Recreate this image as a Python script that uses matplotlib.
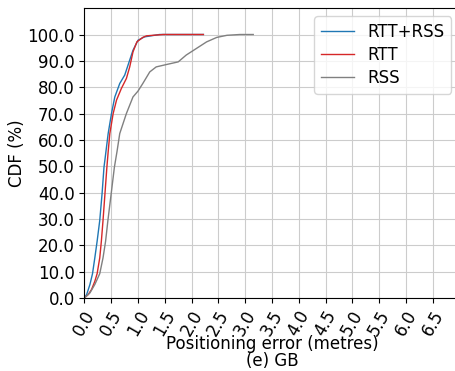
import matplotlib
matplotlib.use("Agg")
import matplotlib.pyplot as plt
import numpy as np
from matplotlib.ticker import FormatStrFormatter

# Data (positioning error in metres, CDF in %)
rtt_rss_x = [0.0, 0.043, 0.104, 0.152, 0.195, 0.238, 0.287, 0.33, 0.366, 0.383, 0.444, 0.506,
             0.568, 0.66, 0.753, 0.846, 0.907, 1.0, 1.12, 1.4, 2.22]
rtt_rss_y = [0.0, 1.3, 5.1, 9.2, 15.2, 21.5, 29.4, 39.5, 49.6, 52.3, 62.4, 70.0,
             76.3, 81.4, 84.6, 90.3, 94.0, 97.8, 99.1, 100.0, 100.0]

rtt_x = [0.0, 0.073, 0.134, 0.195, 0.238, 0.287, 0.317, 0.348, 0.384, 0.42, 0.445, 0.475,
         0.537, 0.6, 0.69, 0.784, 0.846, 0.907, 0.98, 1.09, 1.16, 1.47, 2.22]
rtt_y = [0.0, 1.3, 3.2, 6.3, 9.2, 15.2, 21.5, 29.4, 39.5, 49.6, 55.7, 62.4,
         70.0, 75.1, 79.5, 83.3, 87.7, 93.4, 97.2, 98.9, 99.5, 100.0, 100.0]

rss_x = [0.0, 0.104, 0.195, 0.287, 0.348, 0.396, 0.439, 0.5, 0.56, 0.61, 0.66, 0.784, 0.907,
         1.0, 1.09, 1.22, 1.34, 1.53, 1.75, 1.9, 2.09, 2.28, 2.47, 2.66, 2.9, 3.15]
rss_y = [0.0, 1.9, 5.1, 9.2, 15.2, 21.5, 29.4, 39.5, 49.6, 55.7, 62.4, 70.0, 76.3,
         78.5, 81.4, 85.8, 87.7, 88.6, 89.6, 92.2, 94.7, 97.2, 98.9, 99.7, 100.0, 100.0]

labels = ["RTT+RSS", "RTT", "RSS"]
xticks = np.arange(0, 7.0, 0.5)
yticks = np.arange(0, 101, 10)

fig = plt.figure(figsize=(4.56, 3.71), dpi=100)
ax = fig.add_axes([0.185, 0.197, 0.823, 0.781])
ax.plot(rtt_rss_x, rtt_rss_y, color="#1f77b4", lw=1.0, label=labels[0])
ax.plot(rtt_x, rtt_y, color="#d62728", lw=1.0, label=labels[1])
ax.plot(rss_x, rss_y, color="gray", lw=1.0, label=labels[2])

ax.set_xlim(0, 7.0)
ax.set_ylim(0, 110)
ax.set_xticks(xticks)
ax.set_yticks(yticks)
ax.xaxis.set_major_formatter(FormatStrFormatter("%.1f"))
ax.yaxis.set_major_formatter(FormatStrFormatter("%.1f"))
ax.tick_params(axis="y", labelsize=12)
ax.tick_params(axis="x", labelsize=12)
plt.setp(ax.get_xticklabels(), rotation=60)
ax.grid(True, color="#cccccc", lw=0.8)
ax.set_xlabel("Positioning error (metres)\n(e) GB", fontsize=12, linespacing=0.95, labelpad=-3.5)
ax.set_ylabel("CDF (%)", fontsize=12, labelpad=1)
ax.legend(loc="upper right", fontsize=12, labelspacing=0.3)
fig.savefig("out.png", dpi=100)
